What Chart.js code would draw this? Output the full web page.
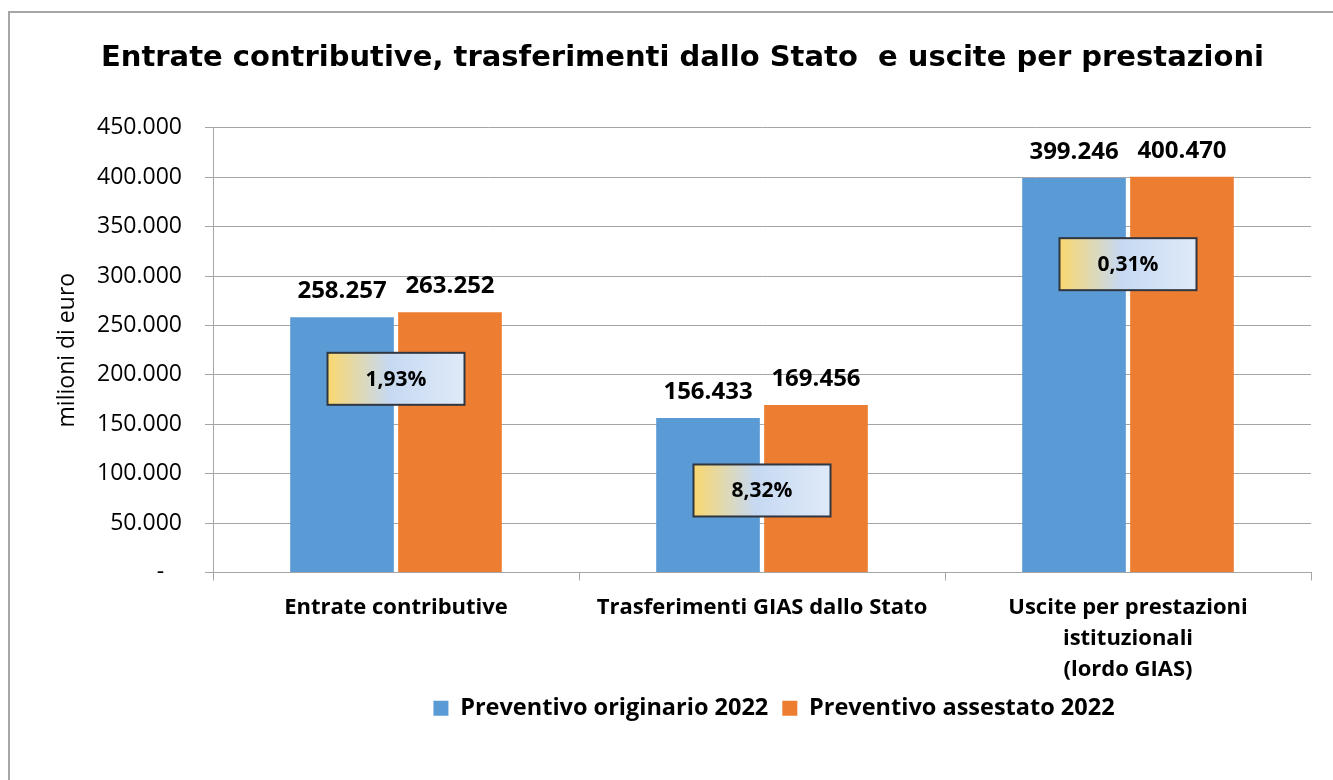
<!DOCTYPE html>
<html>
<head>
<meta charset="utf-8">
<script src="https://cdn.jsdelivr.net/npm/chart.js@4.4.0/dist/chart.umd.min.js"></script>
<style>
  html, body { margin: 0; padding: 0; background: #fff; overflow: hidden; }
  #wrap { position: relative; width: 1333px; height: 780px; }
  #frame { position: absolute; left: 8px; top: 11px; width: 1400px; height: 900px;
           border-left: 2px solid #a6a6a6; border-top: 2px solid #a6a6a6; }
  canvas { position: absolute; left: 0; top: 0; }
</style>
</head>
<body>
<div id="wrap">
  <div id="frame"></div>
  <canvas id="chart" width="1333" height="780"></canvas>
</div>
<script>
// dati del grafico
const categorie = [
  "Entrate contributive",
  "Trasferimenti GIAS dallo Stato",
  ["Uscite per prestazioni", "istituzionali", "(lordo GIAS)"]
];
const originario = [258257, 156433, 399246];
const assestato = [263252, 169456, 400470];
const variazioni = ["1,93%", "8,32%", "0,31%"];
const yTicks = [0, 50000, 100000, 150000, 200000, 250000, 300000, 350000, 400000, 450000];

const FONT = "'Open Sans', Lato, sans-serif";

function fmt(v) {
  return String(v).replace(/\B(?=(\d{3})+(?!\d))/g, ".");
}

// etichette sopra le barre
const valueLabels = {
  id: "valueLabels",
  afterDatasetsDraw(chart) {
    const ctx = chart.ctx;
    ctx.save();
    ctx.font = "bold 24px " + FONT;
    ctx.fillStyle = "#000";
    ctx.textAlign = "center";
    ctx.textBaseline = "middle";
    chart.data.datasets.forEach((ds, di) => {
      chart.getDatasetMeta(di).data.forEach((bar, i) => {
        ctx.fillText(fmt(ds.data[i]), bar.x, bar.y - 26);
      });
    });
    ctx.restore();
  }
};

// riquadri con la variazione percentuale
const changeBoxes = {
  id: "changeBoxes",
  afterDatasetsDraw(chart, args, opts) {
    const ctx = chart.ctx;
    const xs = chart.scales.x, ys = chart.scales.y;
    const w = 137, h = 52;
    ctx.save();
    variazioni.forEach((txt, i) => {
      const cx = xs.getPixelForValue(i);
      const cy = ys.getPixelForValue(opts.anchors[i]);
      const x0 = cx - w / 2, y0 = cy - h / 2;
      const g = ctx.createLinearGradient(x0, 0, x0 + w, 0);
      g.addColorStop(0, "#fad86f");
      g.addColorStop(0.45, "#c6d9f2");
      g.addColorStop(1, "#dfeaf8");
      ctx.fillStyle = g;
      ctx.fillRect(x0, y0, w, h);
      ctx.lineWidth = 2;
      ctx.strokeStyle = "#2f3640";
      ctx.strokeRect(x0, y0, w, h);
      ctx.fillStyle = "#000";
      ctx.font = "bold 21px " + FONT;
      ctx.textAlign = "center";
      ctx.textBaseline = "middle";
      ctx.fillText(txt, cx, cy + 1);
    });
    ctx.restore();
  }
};

// legenda centrata un po' a destra, come nell'originale
const legendShift = {
  id: "legendShift",
  afterLayout(chart, args, opts) {
    const lg = chart.legend;
    const ca = chart.chartArea;
    const d = (ca.left + ca.right) / 2 + opts.offset - (lg.left + lg.right) / 2;
    lg.left += d;
    lg.right += d;
  }
};

new Chart(document.getElementById("chart"), {
  type: "bar",
  data: {
    labels: categorie,
    datasets: [
      { label: "Preventivo originario 2022", data: originario, backgroundColor: "#5b9bd5" },
      { label: "Preventivo assestato 2022", data: assestato, backgroundColor: "#ed7d31" }
    ]
  },
  plugins: [valueLabels, changeBoxes, legendShift],
  options: {
    responsive: false,
    animation: false,
    devicePixelRatio: 1,
    datasets: { bar: { categoryPercentage: 0.59, barPercentage: 0.96 } },
    layout: { padding: { left: 54, right: 22, top: 20, bottom: 50 } },
    scales: {
      x: {
        afterFit: s => { s.height = 110; },
        grid: { display: true, drawOnChartArea: false, offset: true, tickLength: 8, color: "#a6a6a6" },
        border: { color: "#a6a6a6" },
        ticks: { color: "#000", font: { family: FONT, size: 22, weight: "bold", lineHeight: 1.4 },
                 padding: 12, maxRotation: 0 }
      },
      y: {
        min: 0,
        max: 450000,
        afterBuildTicks: axis => { axis.ticks = yTicks.map(v => ({ value: v })); },
        afterFit: s => { s.width = 159; },
        grid: { color: "#a6a6a6", tickLength: 8 },
        border: { color: "#a6a6a6" },
        ticks: {
          color: "#000",
          font: { family: FONT, size: 23 },
          padding: 23,
          callback: v => v === 0 ? "-   " : fmt(v)
        },
        title: { display: true, text: "milioni di euro", color: "#000",
                 font: { family: FONT, size: 23 }, padding: 0 }
      }
    },
    plugins: {
      title: {
        display: true,
        text: "Entrate contributive, trasferimenti dallo Stato  e uscite per prestazioni",
        color: "#000",
        font: { family: "'DejaVu Sans', Verdana, sans-serif", size: 29, weight: "bold" },
        padding: { top: 21, bottom: 52 }
      },
      legend: {
        position: "bottom",
        labels: { color: "#000", boxWidth: 15, boxHeight: 15, padding: 14,
                  font: { family: FONT, size: 23.5, weight: "bold" } }
      },
      tooltip: { enabled: false },
      changeBoxes: { anchors: [196000, 83000, 312000] },
      legendShift: { offset: 12 }
    }
  }
});
</script>
</body>
</html>
